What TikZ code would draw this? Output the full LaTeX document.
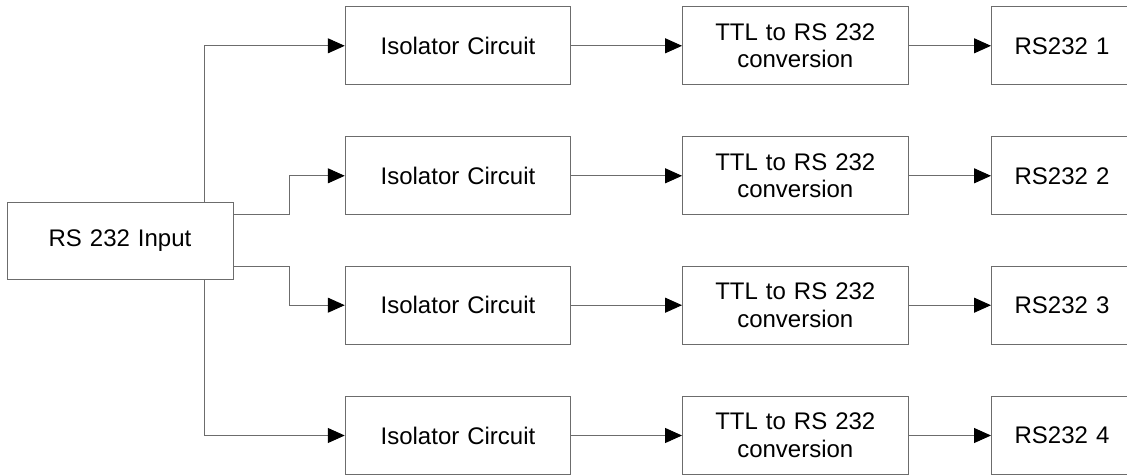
\documentclass[tikz,border=0pt]{standalone}
\usepackage{fontspec}
\setmainfont{Liberation Sans}[WordSpace=1.2]
\usetikzlibrary{arrows.meta}
\begin{document}
\begin{tikzpicture}[x=1pt,y=-1pt,
  box/.style={draw=gray!85!black, line width=1pt, rectangle, inner sep=0pt,
    minimum height=78pt, align=center, font=\fontsize{24}{27.7}\selectfont},
  isobox/.style={box, minimum width=225.5pt},
  ttlbox/.style={box, minimum width=225.5pt},
  outbox/.style={box, minimum width=141pt},
  conn/.style={draw=gray!85!black, line width=1pt,
    -{Triangle[length=17pt,width=15pt,color=black,fill=black]}}]
\clip (0,0) rectangle (1127,474);
\fill[white] (0,0) rectangle (1127,474);

\node[box, minimum width=226pt, minimum height=77pt] (in) at (120,240.5) {RS 232 Input};

\foreach \i/\y in {1/45.8, 2/175.8, 3/305.2, 4/435.5} {
  \node[isobox] (iso\i) at (458,\y) {Isolator Circuit};
  \node[ttlbox] (ttl\i) at (795.3,\y) {TTL to RS 232\\conversion};
  \node[outbox] (out\i) at (1062,\y) {RS232 \i};
  \draw[conn] (iso\i.east) -- (ttl\i.west);
  \draw[conn] (ttl\i.east) -- (out\i.west);
}

\coordinate (o1) at (204.3,202);
\coordinate (o2) at (233,214.3);
\coordinate (o3) at (233,266.7);
\coordinate (o4) at (204.3,279);

\draw[conn] (o1) |- (iso1.west);
\draw[conn] (o2) -- ++(56,0) |- (iso2.west);
\draw[conn] (o3) -- ++(56,0) |- (iso3.west);
\draw[conn] (o4) |- (iso4.west);
\end{tikzpicture}
\end{document}
